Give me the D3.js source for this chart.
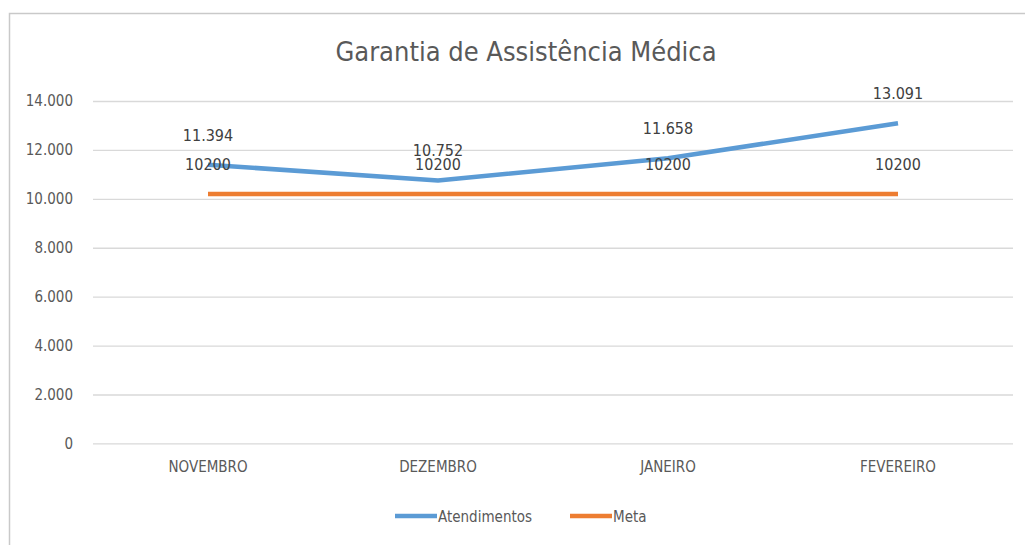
<!DOCTYPE html>
<html>
<head>
<meta charset="utf-8">
<script src="https://cdn.jsdelivr.net/npm/d3@7"></script>
<style>
  body { margin: 0; background: #fff; }
  svg text { font-family: "Liberation Sans Narrow", "Arial Narrow", "DejaVu Sans Condensed", sans-serif; fill: #595959; }
</style>
</head>
<body>
<div id="chart"></div>
<script>
// Data
const months = ["NOVEMBRO", "DEZEMBRO", "JANEIRO", "FEVEREIRO"];
const atendimentos = [11394, 10752, 11658, 13091];
const meta = [10200, 10200, 10200, 10200];
const yTicks = [0, 2000, 4000, 6000, 8000, 10000, 12000, 14000];
const title = "Garantia de Assistência Médica";

const width = 1025, height = 545;
const margin = {top: 101, right: 12, bottom: 102, left: 93};

const ptBR = d3.formatLocale({decimal: ",", thousands: ".", grouping: [3], currency: ["R$", ""]});
const fmt = ptBR.format(",d");

const svg = d3.select("#chart")
    .append("svg")
    .attr("width", width)
    .attr("height", height);

// Chart border (cropped on right/bottom in the reference)
svg.append("path")
    .attr("d", `M9.5,${height} V13.5 H${width}`)
    .attr("fill", "none")
    .attr("stroke", "#c9c9c9")
    .attr("stroke-width", 1.5);

// Scales
const xScale = d3.scaleBand().domain(months).range([margin.left, width - margin.right]);
const yScale = d3.scaleLinear().domain([0, 14000]).range([height - margin.bottom + 0.4, margin.top]);
const xc = d => xScale(d) + xScale.bandwidth() / 2;

// Gridlines + y labels
const yAxis = svg.append("g")
    .attr("transform", `translate(${margin.left},0)`)
    .call(d3.axisLeft(yScale).tickValues(yTicks).tickFormat(fmt)
        .tickSize(-(width - margin.left - margin.right)).tickPadding(20));
yAxis.select(".domain").remove();
yAxis.selectAll("line").attr("stroke", "#d9d9d9").attr("stroke-width", 1.3);
yAxis.selectAll("text").attr("font-size", 15).style("fill", "#595959");

// X labels
const xAxis = svg.append("g")
    .attr("transform", `translate(0,${height - margin.bottom})`)
    .call(d3.axisBottom(xScale).tickSize(0).tickPadding(18));
xAxis.select(".domain").remove();
xAxis.selectAll("text").attr("font-size", 15).style("fill", "#595959");

// Title
svg.append("text")
    .attr("x", 526).attr("y", 61)
    .attr("text-anchor", "middle")
    .attr("font-size", 27)
    .text(title);

const series = [
    {name: "Atendimentos", values: atendimentos, color: "#5b9bd5", label: fmt},
    {name: "Meta", values: meta, color: "#ed7d31", label: d => String(d)}
];

const line = d3.line().x(d => xc(d.m)).y(d => yScale(d.v));

series.forEach(s => {
    const pts = months.map((m, i) => ({m, v: s.values[i]}));
    svg.append("path")
        .datum(pts)
        .attr("d", line)
        .attr("fill", "none")
        .attr("stroke", s.color)
        .attr("stroke-width", 4.5)
        .attr("stroke-linejoin", "round")
        .attr("stroke-linecap", "butt");
});

// Data labels (Atendimentos drawn first, Meta on top like the original)
series.forEach(s => {
    svg.append("g").selectAll("text")
        .data(months.map((m, i) => ({m, v: s.values[i]})))
        .enter()
        .append("text")
        .attr("x", d => xc(d.m))
        .attr("y", d => yScale(d.v) - 24)
        .attr("text-anchor", "middle")
        .attr("font-size", 16)
        .style("fill", "#404040")
        .text(d => s.label(d.v));
});

// Legend
const legend = svg.append("g").attr("transform", "translate(0,516)");
const legendItems = [{name: "Atendimentos", x: 395}, {name: "Meta", x: 570}];
legendItems.forEach((item, i) => {
    legend.append("line")
        .attr("x1", item.x).attr("x2", item.x + 42)
        .attr("y1", 0).attr("y2", 0)
        .attr("stroke", series[i].color)
        .attr("stroke-width", 4.5);
    legend.append("text")
        .attr("x", item.x + 43).attr("y", 5.5)
        .attr("font-size", 15)
        .text(item.name);
});
</script>
</body>
</html>
